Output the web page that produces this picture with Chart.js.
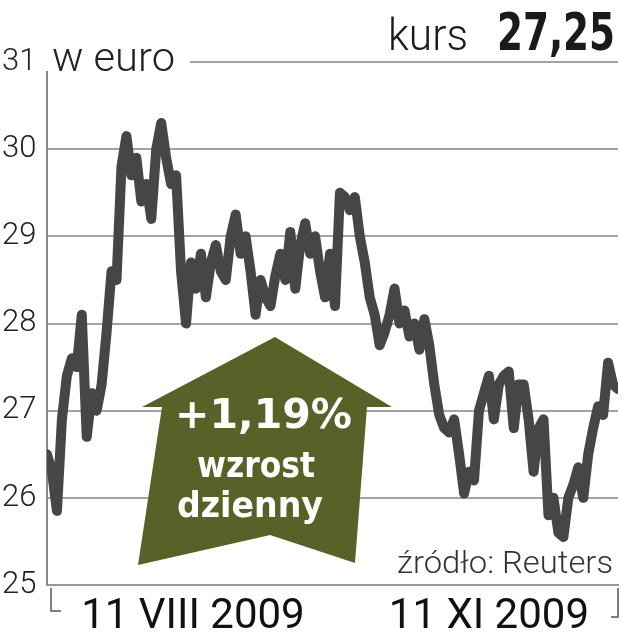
<!DOCTYPE html>
<html>
<head>
<meta charset="utf-8">
<script src="https://cdn.jsdelivr.net/npm/chart.js@4.4.1/dist/chart.umd.min.js"></script>
<style>
  body { margin: 0; background: #fff; }
  #wrap { position: relative; width: 622px; height: 640px; }
  #over { position: absolute; left: 0; top: 0; }
</style>
</head>
<body>
<div id="wrap">
  <canvas id="myChart" width="622" height="640"></canvas>
  <svg id="over" width="622" height="640">
    <rect x="43" y="36" width="147" height="35" fill="#fff"/>
    <text x="52" y="71" font-family="Roboto" font-weight="300" font-size="41" fill="#222" textLength="123" lengthAdjust="spacingAndGlyphs">w euro</text>
    <text x="388" y="50" font-family="Roboto" font-weight="300" font-size="44" fill="#1a1a1a" textLength="80" lengthAdjust="spacingAndGlyphs">kurs</text>
    <text x="497" y="50" font-family="'Liberation Sans Narrow','DejaVu Sans Condensed',sans-serif" font-weight="bold" font-size="52" fill="#1a1a1a" textLength="118" lengthAdjust="spacingAndGlyphs">27,25</text>
    <polygon points="275,337 392,407 367,407 355,563 270,535 138,565 162,407 142,407" fill="#5a6128"/>
    <text x="175" y="428" font-family="'DejaVu Sans'" font-weight="bold" font-size="40" fill="#fff" textLength="177" lengthAdjust="spacingAndGlyphs">+1,19%</text>
    <text x="197" y="477" font-family="'DejaVu Sans Condensed','DejaVu Sans'" font-weight="bold" font-size="36" fill="#fff" textLength="118" lengthAdjust="spacingAndGlyphs">wzrost</text>
    <text x="177" y="517" font-family="'DejaVu Sans Condensed','DejaVu Sans'" font-weight="bold" font-size="36" fill="#fff" textLength="146" lengthAdjust="spacingAndGlyphs">dzienny</text>
    <text x="397" y="573" font-family="Roboto" font-weight="300" font-size="32" fill="#333" textLength="216" lengthAdjust="spacingAndGlyphs">źródło: Reuters</text>
  </svg>
</div>
<script>
// kurs w euro, notowania dzienne
const prices = [
  26.5, 26.3, 25.85, 26.9, 27.4, 27.6, 27.5, 28.1, 26.7, 27.2,
  27.0, 27.3, 27.9, 28.6, 28.5, 29.8, 30.15, 29.7, 29.9, 29.4,
  29.6, 29.2, 30.0, 30.3, 29.9, 29.6, 29.7, 28.6, 28.0, 28.7,
  28.4, 28.8, 28.3, 28.7, 28.9, 28.6, 28.5, 29.0, 29.25, 28.8,
  29.0, 28.6, 28.1, 28.5, 28.3, 28.2, 28.55, 28.8, 28.5, 29.05,
  28.4, 28.9, 29.15, 28.8, 29.0, 28.6, 28.3, 28.8, 28.2, 29.5,
  29.45, 29.3, 29.45, 29.0, 28.7, 28.3, 28.1, 27.75, 27.9, 28.1,
  28.4, 28.0, 28.15, 27.85, 28.0, 27.7, 28.05, 27.75, 27.3, 26.95,
  26.8, 26.75, 26.9, 26.5, 26.05, 26.3, 26.2, 27.0, 27.2, 27.4,
  26.9, 27.3, 27.4, 27.45, 26.8, 27.3, 27.3, 26.9, 26.3, 26.8,
  26.9, 25.8, 26.0, 25.6, 25.55, 26.0, 26.15, 26.35, 26.0, 26.5,
  26.8, 27.05, 26.95, 27.55, 27.3, 27.25
];
const days = prices.map((p, i) => i);

const yTicks = [25, 26, 27, 28, 29, 30, 31];
const xTickValues = [29.4, 89];
const xTickLabels = ['11 VIII 2009', '11 XI 2009'];

const brackets = {
  id: 'brackets',
  afterDraw(chart) {
    const ctx = chart.ctx;
    const a = chart.chartArea;
    ctx.save();
    ctx.strokeStyle = '#555';
    ctx.lineWidth = 1.5;
    ctx.beginPath();
    ctx.moveTo(a.left + 4, a.bottom + 3);
    ctx.lineTo(a.left + 4, a.bottom + 26);
    ctx.lineTo(a.left + 14, a.bottom + 26);
    ctx.moveTo(a.right, a.bottom + 3);
    ctx.lineTo(a.right, a.bottom + 32);
    ctx.lineTo(a.right - 7, a.bottom + 32);
    ctx.stroke();
    ctx.restore();
  }
};

new Chart(document.getElementById('myChart'), {
  type: 'line',
  data: {
    labels: days,
    datasets: [{
      data: prices,
      borderColor: '#464646',
      borderWidth: 10,
      borderJoinStyle: 'round',
      borderCapStyle: 'round',
      pointRadius: 0,
      tension: 0,
      fill: false
    }]
  },
  options: {
    responsive: false,
    animation: false,
    devicePixelRatio: 1,
    layout: { padding: { left: 2, right: 4, top: 62, bottom: 0 } },
    plugins: { legend: { display: false }, tooltip: { enabled: false } },
    scales: {
      x: {
        type: 'linear',
        min: 0,
        max: prices.length - 1,
        grid: { display: false, drawTicks: false },
        border: { display: true, color: '#999', width: 2 },
        afterBuildTicks: (scale) => { scale.ticks = xTickValues.map(v => ({ value: v })); },
        afterFit: (scale) => { scale.height = 55; },
        ticks: {
          padding: 7,
          maxRotation: 0,
          autoSkip: false,
          color: '#111',
          font: { family: 'Roboto', weight: '400', size: 42 },
          callback: (v, i) => xTickLabels[i]
        }
      },
      y: {
        min: 25,
        max: 31,
        grid: { color: '#a3a3a3', lineWidth: 2, drawTicks: false },
        border: { display: true, color: '#888', width: 2 },
        afterBuildTicks: (scale) => { scale.ticks = yTicks.map(v => ({ value: v })); },
        afterFit: (scale) => { scale.width = 45; },
        ticks: {
          crossAlign: 'far',
          padding: 0,
          color: '#222',
          font: { family: 'Roboto', weight: '300', size: 31 }
        }
      }
    }
  },
  plugins: [brackets]
});
</script>
</body>
</html>
